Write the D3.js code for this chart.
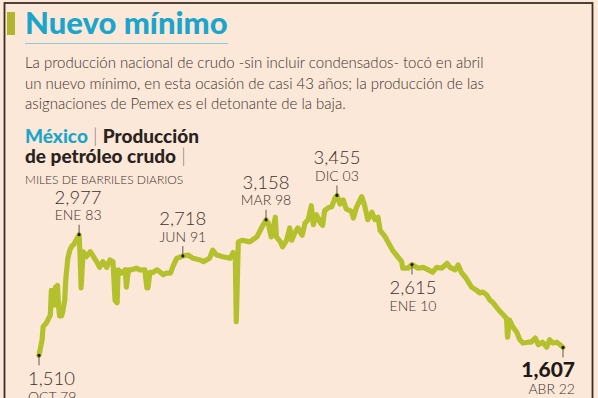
<!DOCTYPE html>
<html>
<head>
<meta charset="utf-8">
<script src="https://cdn.jsdelivr.net/npm/d3@7"></script>
<style>
  html, body { margin: 0; padding: 0; background: #fce8d9; }
  svg { display: block; }
</style>
</head>
<body>
<div id="chart"></div>
<script>
// Produccion de petroleo crudo en Mexico (miles de barriles diarios)

var fechas = ["1979-10","1980-01","1980-02","1980-05","1980-09","1980-10","1980-11","1980-12",
  "1981-01","1981-02","1981-03","1981-04","1981-05","1981-06","1981-07","1981-08","1981-09","1981-11","1981-12",
  "1982-02","1982-04","1982-06","1982-08","1983-01","1983-02","1983-03","1983-05","1983-08","1983-12",
  "1984-03","1984-06","1984-09","1984-12","1985-04","1985-07","1985-10","1985-12","1986-02","1986-03",
  "1986-06","1986-10","1986-11","1987-01","1987-04","1987-09","1987-12","1988-05","1988-07","1988-08",
  "1988-10","1989-01","1989-05","1989-08","1989-11","1990-02","1990-06","1990-08","1990-12","1991-06",
  "1991-11","1992-04","1992-11","1993-02","1993-08","1993-11","1994-03","1994-09","1995-04","1995-07",
  "1995-09","1995-10","1995-12","1996-04","1996-11","1997-06","1997-11","1998-03","1998-05","1998-08",
  "1998-12","1999-01","1999-05","1999-07","1999-11","2000-02","2000-04","2000-07","2000-10","2001-02",
  "2001-05","2001-08","2001-11","2002-01","2002-04","2002-08","2002-10","2002-12","2003-03","2003-07",
  "2003-10","2003-12","2004-03","2004-06","2004-09","2005-02","2005-04","2005-07","2005-12","2006-03",
  "2006-06","2006-10","2007-01","2007-04","2007-06","2007-11","2008-02","2008-06","2008-11","2009-03",
  "2009-04","2009-09","2010-01","2010-07","2010-12","2011-05","2011-09","2012-01","2012-06","2012-11",
  "2013-02","2013-07","2013-10","2014-01","2014-05","2014-08","2014-11","2015-04","2015-07","2015-10",
  "2016-02","2016-05","2016-08","2016-11","2017-03","2017-06","2017-09","2017-10","2017-12","2018-03",
  "2018-07","2018-10","2019-01","2019-06","2019-09","2020-01","2020-04","2020-08","2020-12","2021-03",
  "2021-06","2021-10","2022-01","2022-04"];

var valores = [1510,1700,1860,1900,2000,2300,2180,2300,
  2120,2340,2180,2360,2120,1990,2060,1990,2040,2180,2430,
  2690,2790,2840,2860,2977,2710,2330,2770,2710,2770,
  2710,2650,2580,2650,2580,2670,2650,2180,2150,2550,
  2510,2550,2340,2550,2550,2570,2550,2550,2330,2330,
  2520,2520,2550,2520,2490,2510,2510,2580,2690,2718,
  2730,2690,2670,2650,2690,2790,2730,2710,2690,2760,
  2730,1920,2890,2910,2890,2950,3070,3158,3120,2950,
  3190,2950,2890,2830,2910,3060,2910,3000,3060,2970,
  3120,3160,3330,3100,3220,3120,3090,3270,3300,3320,
  3420,3455,3350,3400,3290,3260,3180,3310,3440,3330,
  3160,3250,3160,3190,3030,2950,2880,2790,2710,2650,
  2570,2570,2615,2570,2580,2550,2520,2580,2570,2630,
  2580,2550,2610,2520,2460,2400,2340,2300,2270,2280,
  2240,2180,2150,2100,2040,2000,1960,1730,1940,1860,
  1790,1700,1660,1670,1670,1720,1640,1670,1610,1700,
  1660,1670,1640,1607];

// puntos destacados
var hitoFechas = ["1979-10","1983-01","1991-06","1998-03","2003-12","2010-01","2022-04"];
var hitoValores = [1510,2977,2718,3158,3455,2615,1607];
var hitoMeses = ["OCT 79","ENE 83","JUN 91","MAR 98","DIC 03","ENE 10","ABR 22"];

var titulo = "Nuevo mínimo";
var texto = ["La producción nacional de crudo -sin incluir condensados- tocó en abril",
  "un nuevo mínimo, en esta ocasión de casi 43 años; la producción de las",
  "asignaciones de Pemex es el detonante de la baja."];

var W = 598, H = 398;
var azul = "#1ba5cb", oliva = "#b4c12c", oscuro = "#3b322c";
var fuente = "Lato, 'Open Sans', sans-serif";

var parse = d3.timeParse("%Y-%m");
var datos = fechas.map(function(f, i){ return {fecha: parse(f), valor: valores[i]}; });

var svg = d3.select("#chart").append("svg")
  .attr("width", W).attr("height", H)
  .style("font-family", fuente);

svg.append("rect").attr("width", W).attr("height", H).attr("fill", "#fce8d9");

// marco
svg.append("rect")
  .attr("x", 4.5).attr("y", 3).attr("width", 588).attr("height", 420)
  .attr("fill", "none").attr("stroke", "#3a2f28").attr("stroke-width", 1.8);

// titulo
svg.append("rect").attr("x", 7).attr("y", 12).attr("width", 8).attr("height", 23).attr("fill", "#b3b52c");
svg.append("text").attr("x", 25).attr("y", 34)
  .attr("font-size", 31).attr("font-weight", 900).attr("fill", azul)
  .text(titulo);
svg.append("line").attr("x1", 25).attr("x2", 228).attr("y1", 43.5).attr("y2", 43.5)
  .attr("stroke", "#86cde2").attr("stroke-width", 1);

svg.selectAll("text.intro").data(texto).enter().append("text")
  .attr("class", "intro")
  .attr("x", 25).attr("y", function(d, i){ return 68 + i * 20.5; })
  .attr("font-size", 15).attr("font-weight", 300).attr("fill", oscuro)
  .text(function(d){ return d; });

// leyenda
var ley1 = svg.append("text").attr("x", 25).attr("y", 142.5).attr("font-size", 19).attr("font-weight", 900);
ley1.append("tspan").attr("fill", azul).text("México");
ley1.append("tspan").attr("fill", "#8a7f78").attr("font-weight", 300).text(" | ");
ley1.append("tspan").attr("fill", "#2a221d").text("Producción");
var ley2 = svg.append("text").attr("x", 25).attr("y", 162.5).attr("font-size", 19).attr("font-weight", 900);
ley2.append("tspan").attr("fill", "#2a221d").text("de petróleo crudo");
ley2.append("tspan").attr("fill", "#8a7f78").attr("font-weight", 300).text(" |");
svg.append("text").attr("x", 25).attr("y", 184)
  .attr("font-size", 12).attr("font-weight", 300).attr("fill", oscuro)
  .text("MILES DE BARRILES DIARIOS");

// escalas
var x = d3.scaleTime().domain([parse("1979-10"), parse("2022-04")]).range([39, 563]);
var y = d3.scaleLinear().domain([1000, 4000]).range([397.3, 150.6]);

var linea = d3.line()
  .x(function(d){ return x(d.fecha); })
  .y(function(d){ return y(d.valor); });

svg.append("path").datum(datos)
  .attr("d", linea)
  .attr("fill", "none")
  .attr("stroke", oliva)
  .attr("stroke-width", 5.2)
  .attr("stroke-linejoin", "round")
  .attr("stroke-linecap", "round");

// anotaciones: abajo (1) o arriba (-1), alineacion
var lado = [1, -1, -1, -1, -1, 1, 1];
var ancla = ["start", "middle", "middle", "middle", "middle", "middle", "end"];
var dx = [-11, -1, 0, 0, 0, 1, 12];
var fmt = d3.format(",");

hitoFechas.forEach(function(f, i){
  var px = x(parse(f)), py = y(hitoValores[i]);
  var g = svg.append("g");
  g.append("line").attr("x1", px).attr("x2", px)
    .attr("y1", py).attr("y2", py + lado[i] * 10)
    .attr("stroke", oscuro).attr("stroke-width", 0.8);
  g.append("circle").attr("cx", px).attr("cy", py).attr("r", 1.6).attr("fill", "#1e1a17");
  var ultimo = i == hitoFechas.length - 1;
  var yNum = lado[i] < 0 ? py - 31 : py + 30;
  var yMes = lado[i] < 0 ? py - 14.5 : py + 47;
  g.append("text").attr("x", px + dx[i]).attr("y", yNum)
    .attr("text-anchor", ancla[i])
    .attr("font-size", ultimo ? 21 : 18.5)
    .attr("font-weight", ultimo ? 900 : 300)
    .attr("fill", ultimo ? "#1e1a17" : oscuro)
    .text(fmt(hitoValores[i]));
  g.append("text").attr("x", px + dx[i]).attr("y", yMes)
    .attr("text-anchor", ancla[i])
    .attr("font-size", 14).attr("font-weight", 300).attr("fill", oscuro)
    .text(hitoMeses[i]);
});
</script>
</body>
</html>
